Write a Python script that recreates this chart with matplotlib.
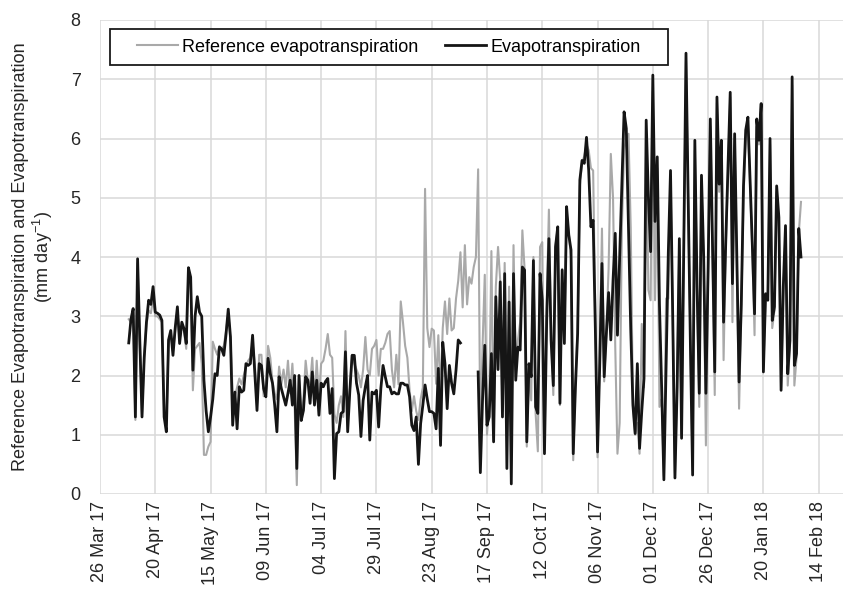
import numpy as np
import pandas as pd
import matplotlib
matplotlib.use("Agg")
import matplotlib.pyplot as plt
import matplotlib.dates as mdates
from matplotlib.patches import Rectangle

plt.rcParams['font.family'] = ['Liberation Sans', 'DejaVu Sans']
plt.rcParams['mathtext.fontset'] = 'custom'
plt.rcParams['mathtext.rm'] = 'Liberation Sans'

nan = np.nan

# daily values, 08 Apr 2017 .. 07 Feb 2018
start = "2017-04-08"

et = [
    2.55, 2.95, 3.13, 1.3, 3.97, 2.6, 1.3, 2.3, 2.9, 3.27,
    3.2, 3.5, 3.07, 3.05, 3.02, 2.93, 1.3, 1.05, 2.6, 2.76,
    2.34, 2.8, 3.16, 2.54, 2.9, 2.79, 2.54, 3.82, 3.66, 2.09,
    3.0, 3.33, 3.07, 3.0, 1.92, 1.4, 1.05, 1.3, 1.6, 2.03,
    2.0, 2.48, 2.45, 2.34, 2.7, 3.12, 2.65, 1.16, 1.72, 1.1,
    1.81, 1.72, 1.75, 2.2, 2.17, 2.2, 2.68, 2.03, 1.41, 2.2,
    2.17, 1.78, 1.64, 2.29, 2.03, 1.87, 1.5, 1.05, 1.98, 1.78,
    1.64, 1.5, 1.7, 1.92, 1.5, 2.0, 0.43, 2.0, 1.24, 1.41,
    1.98, 1.92, 1.53, 2.06, 1.5, 1.92, 1.33, 1.87, 1.81, 1.9,
    1.95, 1.36, 1.78, 0.26, 1.02, 1.05, 1.36, 1.39, 2.4, 1.05,
    1.75, 2.34, 2.34, 1.87, 1.67, 0.97, 1.58, 1.81, 2.0, 0.91,
    1.72, 1.69, 1.75, 1.13, 1.78, 2.17, 1.98, 1.81, 1.81, 1.69,
    1.72, 1.69, 1.69, 1.87, 1.87, 1.84, 1.84, 1.64, 1.16, 1.07,
    1.3, 0.5, 1.19, 1.5, 1.84, 1.6, 1.39, 1.39, 1.36, 1.1,
    2.12, 0.82, 2.56, 2.2, 1.44, 2.17, 1.87, 1.69, 2.09, 2.6,
    2.55, nan, nan, nan, nan, nan, nan, nan, 2.06, 0.36,
    1.6, 2.51, 1.16, 1.3, 2.37, 0.88, 3.33, 2.1, 3.58, 1.3,
    3.72, 0.43, 3.24, 0.17, 3.72, 1.92, 2.48, 2.43, 3.83, 3.78,
    0.88, 2.2, 1.98, 3.94, 1.47, 1.36, 3.72, 3.27, 0.68, 2.93,
    4.31, 2.59, 1.83, 4.17, 4.51, 1.53, 3.78, 2.54, 4.85, 4.37,
    4.12, 0.68, 1.8, 2.71, 5.3, 5.63, 5.58, 6.02, 5.46, 4.51,
    4.62, 2.8, 0.71, 2.2, 3.89, 1.98, 2.71, 3.4, 2.6, 3.6,
    4.4, 2.68, 4.0, 5.2, 6.45, 6.17, 4.5, 2.8, 1.5, 1.02,
    2.2, 0.77, 1.4, 1.95, 6.31, 5.0, 4.09, 7.07, 4.6, 5.69,
    3.2, 1.78, 0.24, 2.2, 4.07, 5.46, 3.0, 0.27, 1.8, 4.31,
    0.94, 4.2, 7.44, 5.0, 2.5, 0.32, 5.97, 3.5, 1.7, 5.38,
    4.0, 1.7, 3.8, 6.33, 4.2, 2.06, 6.7, 5.23, 5.97, 2.9,
    4.28, 5.5, 6.78, 3.55, 6.08, 4.0, 1.89, 3.2, 5.2, 6.14,
    6.36, 5.3, 4.2, 3.04, 6.33, 5.97, 6.59, 2.06, 3.38, 3.27,
    6.0, 2.93, 3.16, 5.2, 4.67, 1.75, 3.5, 4.53, 2.03, 2.59,
    7.04, 2.17, 2.37, 4.48, 4.0,
]

eto = [
    2.95, 2.9, 3.1, 1.25, 3.9, 2.5, 1.35, 2.3, 2.85, 3.1,
    3.05, 3.3, 3.0, 3.0, 2.95, 2.9, 1.4, 1.1, 2.55, 2.7,
    2.4, 2.75, 3.1, 2.6, 2.85, 2.75, 2.45, 3.75, 3.6, 1.75,
    2.45, 2.5, 2.55, 2.2, 0.66, 0.66, 0.8, 0.88, 2.57, 2.45,
    2.35, 2.5, 2.45, 2.5, 2.75, 3.05, 2.6, 1.7, 1.65, 1.8,
    1.95, 1.85, 2.0, 2.15, 2.25, 2.3, 2.55, 2.2, 1.5, 2.35,
    2.35, 1.65, 1.7, 2.5, 2.3, 1.9, 1.7, 1.6, 2.15, 1.85,
    2.1, 1.8, 2.25, 1.7, 2.2, 1.5, 0.15, 2.0, 1.3, 1.6,
    2.25, 1.9, 1.85, 2.3, 1.55, 2.25, 1.6, 2.2, 2.25, 2.45,
    2.7, 2.35, 2.3, 1.35, 1.2, 1.5, 1.65, 1.3, 2.75, 1.3,
    1.75, 2.35, 2.2, 2.1, 2.0, 1.8, 2.1, 2.65, 2.1, 2.0,
    2.45, 2.5, 2.6, 2.0, 2.45, 2.45, 2.55, 2.7, 2.75, 2.1,
    1.8, 2.35, 1.85, 3.25, 2.9, 2.5, 2.3, 1.75, 1.4, 1.65,
    1.4, 1.25, 1.6, 1.8, 5.15, 2.8, 2.48, 2.79, 2.76, 1.86,
    2.68, 1.67, 2.8, 3.25, 2.7, 3.3, 2.76, 2.8, 3.3, 3.6,
    4.08, 3.15, 4.2, 3.2, 3.66, 3.55, 3.83, 4.0, 5.48, 0.9,
    2.5, 3.7, 1.0, 1.5, 4.1, 0.9, 3.5, 4.17, 3.6, 1.4,
    3.9, 0.9, 3.5, 0.74, 4.2, 2.1, 2.6, 2.9, 4.45, 3.8,
    0.8, 2.1, 1.58, 4.0, 1.36, 0.72, 4.17, 4.25, 0.74, 3.2,
    4.8, 2.7, 1.67, 4.2, 4.48, 1.5, 3.8, 2.7, 4.75, 4.4,
    4.0, 0.57, 1.9, 2.8, 5.2, 5.6, 5.7, 5.9, 5.8, 5.5,
    5.46, 3.0, 0.62, 2.4, 4.48, 1.9, 2.8, 3.8, 5.74, 5.0,
    2.5, 0.68, 1.2, 4.5, 5.8, 6.0, 6.08, 4.5, 1.53, 1.0,
    1.2, 0.68, 2.87, 1.8, 6.0, 3.44, 3.27, 6.8, 3.27, 5.5,
    1.47, 1.6, 0.3, 3.3, 3.3, 5.3, 3.0, 0.35, 2.0, 4.2,
    1.0, 4.1, 7.3, 4.8, 2.6, 0.4, 5.8, 3.4, 1.47, 5.2,
    3.9, 0.82, 3.7, 6.2, 4.1, 1.67, 6.6, 5.1, 5.8, 2.26,
    4.2, 5.4, 6.7, 2.9, 6.0, 3.8, 1.44, 3.1, 5.0, 6.0,
    6.25, 5.2, 4.1, 2.68, 6.2, 5.9, 6.5, 2.1, 3.3, 3.3,
    5.9, 2.8, 3.1, 5.1, 4.6, 1.8, 3.4, 4.4, 1.83, 2.5,
    6.9, 1.83, 2.3, 4.4, 4.93,
]

dates = pd.date_range(start, periods=len(et), freq="D")
tick_dates = pd.date_range("2017-03-26", "2018-02-14", freq="25D")

fig = plt.figure(figsize=(8.43, 5.9), dpi=100)
ax = fig.add_axes([100/843, 96/590, 743/843, 474/590])

ax.plot(dates, eto, color="#a9a9a9", lw=1.5, label="Reference evapotranspiration")
ax.plot(dates, et, color="#151515", lw=2.0, label="Evapotranspiration")

ax.set_ylim(0, 8)
ax.set_xlim(pd.Timestamp("2017-03-26"), pd.Timestamp("2018-02-25"))
ax.set_yticks(range(0, 9))
ax.set_xticks(tick_dates)
ax.xaxis.set_major_formatter(mdates.DateFormatter("%d %b %y"))
ax.tick_params(axis="x", labelrotation=90, length=0, pad=5, labelsize=13, colors="#262626")
ax.tick_params(axis="y", length=0, pad=14, labelsize=13, colors="#262626")
for lab in ax.get_yticklabels():
    lab.set_horizontalalignment("right")

ax.grid(True, color="#d9d9d9", lw=1.1)
ax.set_axisbelow(True)
for s in ax.spines.values():
    s.set_visible(False)

ax.set_ylabel("Reference Evapotranspiration and Evapotranspiration\n(mm day$^{-1}$)",
              fontsize=13, color="#262626", linespacing=1.15)
ax.yaxis.set_label_coords(-0.06, 0.5)

# legend box
fig.patches.append(Rectangle((110/843, 1 - 65/590), 558/843, 36/590,
                             transform=fig.transFigure, fill=True, facecolor="white",
                             edgecolor="#1a1a1a", lw=1.3, zorder=5))
leg = fig.legend(loc="center left", bbox_to_anchor=(137/843, 1 - 47/590), ncol=2,
                 frameon=False, fontsize=13, borderpad=0, borderaxespad=0,
                 handlelength=2.25, handletextpad=0.25, columnspacing=1.5)
leg.set_zorder(6)

fig.savefig("out.png", dpi=100)
